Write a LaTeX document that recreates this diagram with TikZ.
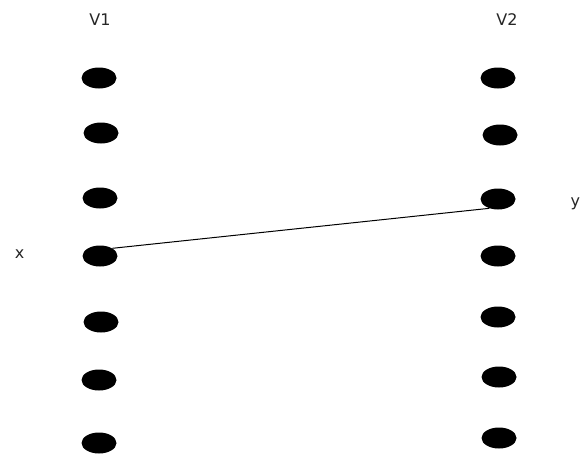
\documentclass[tikz,border=0pt]{standalone}
\usepackage{fontspec}
\setmainfont{DejaVu Sans}
\usetikzlibrary{shapes.geometric}
\begin{document}
\begin{tikzpicture}[x=1pt,y=-1pt,
  dot/.style={ellipse,fill=black,draw=none,minimum width=35pt,minimum height=21pt,inner sep=0pt},
  lbl/.style={font=\fontsize{16}{19}\selectfont,text=black!85,inner sep=0pt},
  link/.style={draw=black,line width=1pt}]
\useasboundingbox[fill=white] (0,0) rectangle (581,453);
% labels
\node[lbl] (v1) at (100,20) {V1};
\node[lbl] (v2) at (507,20) {V2};
\node[lbl,anchor=base] (lx) at (19.5,258) {x};
\node[lbl,anchor=base west] (ly) at (570.5,206.5) {y};
% left column
\node[dot] (l1) at (99,78) {};
\node[dot] (l2) at (101,133) {};
\node[dot] (l3) at (100,198) {};
\node[dot] (l4) at (100,256) {};
\node[dot] (l5) at (101,322) {};
\node[dot] (l6) at (99,380) {};
\node[dot] (l7) at (99,443) {};
% right column
\node[dot] (r1) at (498,78) {};
\node[dot] (r2) at (500,135) {};
\node[dot] (r3) at (498,199) {};
\node[dot] (r4) at (498,256) {};
\node[dot] (r5) at (498,317) {};
\node[dot] (r6) at (499,377) {};
\node[dot] (r7) at (499,438) {};
% connector
\draw[link] (l4.32) -- (r3.227);
\end{tikzpicture}
\end{document}
